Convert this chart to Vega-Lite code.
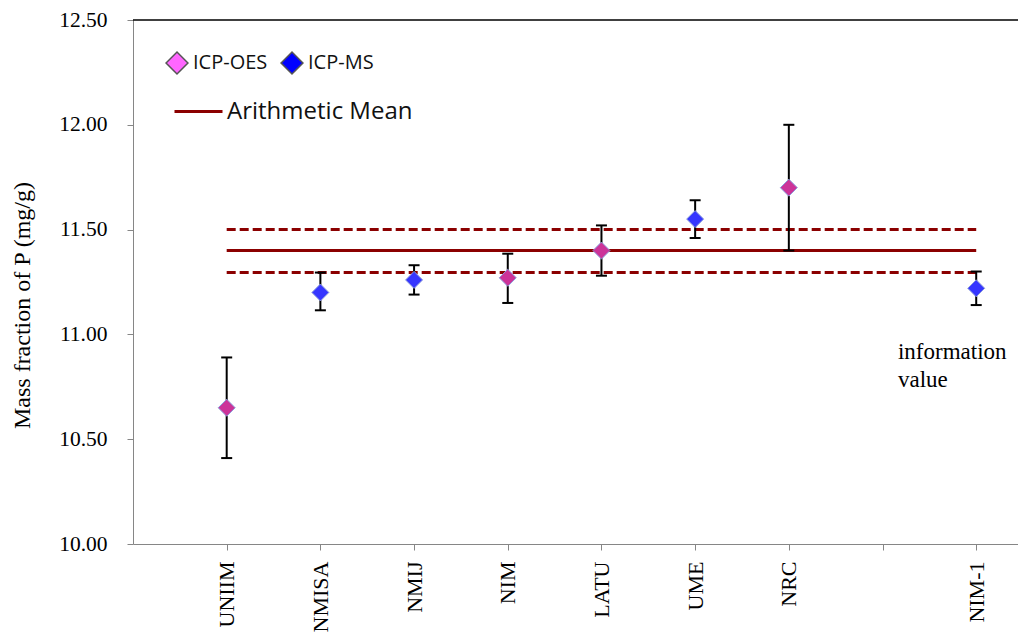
{
  "$schema": "https://vega.github.io/schema/vega-lite/v6.json",
  "width": 885,
  "height": 524,
  "autosize": "none",
  "padding": {"left": 133, "top": 20, "right": 0, "bottom": 98},
  "background": "white",
  "config": {
    "view": {"stroke": null},
    "axis": {"grid": false, "domainColor": "#868686", "tickColor": "#868686", "labelColor": "#000000", "labelFont": "Liberation Serif", "titleFont": "Liberation Serif", "titleColor": "#000000", "titleFontWeight": "normal"}
  },
  "resolve": {"scale": {"fill": "independent"}},
  "datasets": {
    "pts": [
      {"lab": "UNIIM", "x": 1, "y": 10.65, "lo": 10.41, "hi": 10.89, "method": "ICP-OES"},
      {"lab": "NMISA", "x": 2, "y": 11.20, "lo": 11.115, "hi": 11.295, "method": "ICP-MS"},
      {"lab": "NMIJ", "x": 3, "y": 11.26, "lo": 11.19, "hi": 11.33, "method": "ICP-MS"},
      {"lab": "NIM", "x": 4, "y": 11.27, "lo": 11.15, "hi": 11.385, "method": "ICP-OES"},
      {"lab": "LATU", "x": 5, "y": 11.40, "lo": 11.28, "hi": 11.52, "method": "ICP-OES"},
      {"lab": "UME", "x": 6, "y": 11.55, "lo": 11.46, "hi": 11.64, "method": "ICP-MS"},
      {"lab": "NRC", "x": 7, "y": 11.70, "lo": 11.40, "hi": 12.00, "method": "ICP-OES"},
      {"lab": "NIM-1", "x": 9, "y": 11.22, "lo": 11.14, "hi": 11.30, "method": "ICP-MS"}
    ],
    "mean": [{"x": 1, "x2": 9, "y": 11.40, "kind": "Arithmetic Mean"}],
    "band": [{"x": 1, "x2": 9, "y": 11.50}, {"x": 1, "x2": 9, "y": 11.295}],
    "note": [{"x": 8.165, "y": 10.883, "t": "information\nvalue"}],
    "border": [{"y": 12.5}]
  },
  "layer": [
    {
      "data": {"name": "band"},
      "mark": {"type": "rule", "color": "#8B0000", "strokeWidth": 3, "strokeDash": [9, 4]},
      "encoding": {
        "x": {"field": "x", "type": "quantitative", "scale": {"domain": [0, 9.446], "nice": false, "zero": false},
          "axis": {"values": [1, 2, 3, 4, 5, 6, 7, 8, 9], "labelExpr": "['','UNIIM','NMISA','NMIJ','NIM','LATU','UME','NRC','','NIM-1'][datum.value]", "labelAngle": 270, "labelFont": "Liberation Serif", "labelFontSize": 22, "tickSize": 6, "labelPadding": 11, "title": null, "domainWidth": 1}},
        "x2": {"field": "x2"},
        "y": {"field": "y", "type": "quantitative", "scale": {"domain": [10, 12.5], "nice": false, "zero": false},
          "axis": {"values": [10, 10.5, 11, 11.5, 12, 12.5], "format": ".2f", "labelFont": "Liberation Serif", "labelFontSize": 21.5, "tickSize": 6, "labelPadding": 20, "title": "Mass fraction of P (mg/g)", "titleFont": "Liberation Serif", "titleFontSize": 24, "titleX": -111, "titleY": 285, "titleBaseline": "middle", "domainWidth": 1}}
      }
    },
    {
      "data": {"name": "mean"},
      "mark": {"type": "rule", "strokeWidth": 3},
      "encoding": {
        "x": {"field": "x", "type": "quantitative"},
        "x2": {"field": "x2"},
        "y": {"field": "y", "type": "quantitative"},
        "stroke": {"field": "kind", "type": "nominal", "scale": {"domain": ["Arithmetic Mean"], "range": ["#8B0000"]},
          "legend": {"orient": "none", "legendX": 40, "legendY": 66, "title": null, "symbolType": "stroke", "symbolSize": 2304, "symbolStrokeWidth": 3, "labelFont": "Open Sans", "labelFontSize": 24, "labelColor": "#111111", "labelOffset": 3, "labelLimit": 400}}
      }
    },
    {
      "data": {"name": "pts"},
      "mark": {"type": "rule", "color": "#000000", "strokeWidth": 2},
      "encoding": {
        "x": {"field": "x", "type": "quantitative"},
        "y": {"field": "lo", "type": "quantitative"},
        "y2": {"field": "hi"}
      }
    },
    {
      "data": {"name": "pts"},
      "mark": {"type": "tick", "orient": "horizontal", "color": "#000000", "size": 11, "thickness": 2, "opacity": 1},
      "encoding": {
        "x": {"field": "x", "type": "quantitative"},
        "y": {"field": "lo", "type": "quantitative"}
      }
    },
    {
      "data": {"name": "pts"},
      "mark": {"type": "tick", "orient": "horizontal", "color": "#000000", "size": 11, "thickness": 2, "opacity": 1},
      "encoding": {
        "x": {"field": "x", "type": "quantitative"},
        "y": {"field": "hi", "type": "quantitative"}
      }
    },
    {
      "data": {"name": "pts"},
      "mark": {"type": "point", "shape": "diamond", "filled": true, "size": 289, "opacity": 1, "stroke": "#8C9CDC", "strokeWidth": 1},
      "encoding": {
        "x": {"field": "x", "type": "quantitative"},
        "y": {"field": "y", "type": "quantitative"},
        "fill": {"field": "method", "type": "nominal", "scale": {"domain": ["ICP-OES", "ICP-MS"], "range": ["#CC3399", "#3636FF"]}, "legend": null}
      }
    },
    {
      "data": {"name": "pts"},
      "transform": [{"filter": "datum.x > 100"}],
      "mark": {"type": "point", "shape": "diamond", "filled": true, "size": 480, "opacity": 1, "stroke": "#555555", "strokeWidth": 1.5},
      "encoding": {
        "x": {"field": "x", "type": "quantitative"},
        "y": {"field": "y", "type": "quantitative"},
        "fill": {"field": "method", "type": "nominal", "scale": {"domain": ["ICP-OES", "ICP-MS"], "range": ["#FF66FF", "#0000FF"]},
          "legend": {"orient": "none", "legendX": 32, "legendY": 31, "direction": "horizontal", "title": null, "symbolType": "diamond", "symbolSize": 480, "symbolStrokeColor": "#555555", "symbolStrokeWidth": 1.5, "symbolOpacity": 1, "labelFont": "Open Sans", "labelFontSize": 20, "labelColor": "#111111", "labelOffset": 4, "columnPadding": 10, "labelLimit": 300}}
      }
    },
    {
      "data": {"name": "note"},
      "mark": {"type": "text", "align": "left", "baseline": "alphabetic", "font": "Liberation Serif", "fontSize": 23, "lineBreak": "\n", "lineHeight": 28, "color": "#000000"},
      "encoding": {
        "x": {"field": "x", "type": "quantitative"},
        "y": {"field": "y", "type": "quantitative"},
        "text": {"field": "t"}
      }
    },
    {
      "data": {"name": "border"},
      "mark": {"type": "rule", "color": "#000000", "strokeWidth": 1.5},
      "encoding": {
        "y": {"field": "y", "type": "quantitative"}
      }
    }
  ]
}
